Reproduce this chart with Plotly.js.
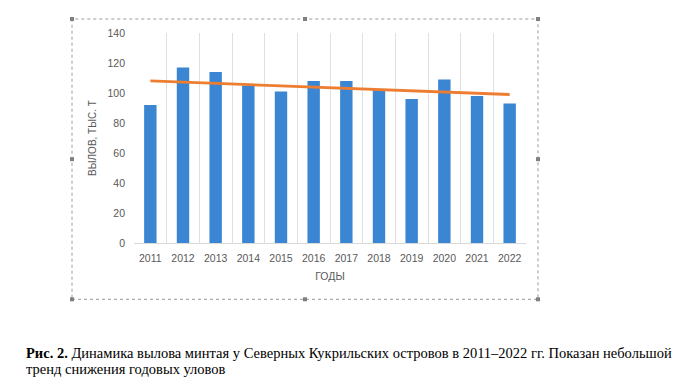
<!DOCTYPE html>
<html>
<head>
<meta charset="utf-8">
<script src="https://cdn.plot.ly/plotly-3.0.1.min.js"></script>
<style>
html,body{margin:0;padding:0;background:#fff;}
#chart{width:683px;height:386px;}
</style>
</head>
<body>
<div id="chart"></div>
<script>
// ---- data ----
const years = ['2011','2012','2013','2014','2015','2016','2017','2018','2019','2020','2021','2022'];
const catch_kt = [92, 117, 114, 105, 101, 108, 108, 102, 96, 109, 98, 93];
const trendYears = ['2011', '2022'];
const trendValues = [108.1, 99.0];
const yTicks = [0, 20, 40, 60, 80, 100, 120, 140];
const xTitle = 'ГОДЫ';
const yTitle = 'ВЫЛОВ, ТЫС. Т';
const captionLine1 = '<b>Рис. 2.</b> Динамика вылова минтая у Северных Кукрильских островов в 2011–2022 гг. Показан небольшой';
const captionLine2 = 'тренд снижения годовых уловов';

// ---- geometry (pixels) ----
const W = 683, H = 386;
const plotL = 134, plotR = 526, plotT = 32.7, plotB = 242.7;
const pw = plotR - plotL, ph = plotB - plotT;
const px = x => (x - plotL) / pw;
const py = y => (plotB - y) / ph;

const frame = {l: 72, r: 538, t: 18.7, b: 299};
const shapes = [{
  type: 'rect', xref: 'paper', yref: 'paper',
  x0: px(frame.l), x1: px(frame.r), y0: py(frame.b), y1: py(frame.t),
  line: {color: '#9a9a9a', width: 1, dash: 'dot'}, fillcolor: 'rgba(0,0,0,0)'
}];
const hs = 2;
const mx = (frame.l + frame.r) / 2, my = (frame.t + frame.b) / 2;
[[frame.l, frame.t],[mx, frame.t],[frame.r, frame.t],
 [frame.l, my],[frame.r, my],
 [frame.l, frame.b],[mx, frame.b],[frame.r, frame.b]].forEach(([hx, hy]) => {
  shapes.push({
    type: 'rect', xref: 'paper', yref: 'paper',
    x0: px(hx - hs), x1: px(hx + hs), y0: py(hy + hs), y1: py(hy - hs),
    line: {width: 0}, fillcolor: '#7f7f7f'
  });
});

const tickFont = {family: 'Liberation Sans, Arial, sans-serif', size: 10.5, color: '#595959'};
const capFont = {family: 'Liberation Serif, Times New Roman, serif', size: 14.5, color: '#000'};

const data = [
  {
    type: 'bar', x: years, y: catch_kt, width: 0.38,
    marker: {color: '#3a86d2', line: {width: 0}},
    hoverinfo: 'x+y', showlegend: false
  },
  {
    type: 'scatter', mode: 'lines', x: trendYears, y: trendValues,
    line: {color: '#ed7d31', width: 2.8}, showlegend: false, hoverinfo: 'skip'
  }
];

const layout = {
  width: W, height: H,
  margin: {l: plotL, r: W - plotR, t: plotT, b: H - plotB, pad: 0},
  paper_bgcolor: '#ffffff', plot_bgcolor: '#ffffff',
  showlegend: false,
  xaxis: {
    type: 'category', tickson: 'boundaries', showgrid: true, gridcolor: '#e0e0e0', gridwidth: 1,
    showline: true, linecolor: '#d9d9d9', linewidth: 1, ticks: '',
    tickfont: tickFont, ticklabelstandoff: 5, range: [-0.5, 11.5], fixedrange: true,
    title: {text: xTitle, font: {family: 'Liberation Sans, Arial, sans-serif', size: 10.5, color: '#595959'}, standoff: 10}
  },
  yaxis: {
    range: [0, 140], tickvals: yTicks, showgrid: false, zeroline: false, showline: false,
    ticks: '', tickfont: tickFont, ticklabelstandoff: 8, fixedrange: true,
    title: {text: yTitle, font: {family: 'Liberation Sans, Arial, sans-serif', size: 10, color: '#595959'}, standoff: 8}
  },
  shapes: shapes,
  annotations: [
    {xref: 'paper', yref: 'paper', x: px(24), y: py(352.7), xanchor: 'left', yanchor: 'middle',
     align: 'left', showarrow: false, text: captionLine1, font: capFont},
    {xref: 'paper', yref: 'paper', x: px(24), y: py(369), xanchor: 'left', yanchor: 'middle',
     align: 'left', showarrow: false, text: captionLine2, font: capFont}
  ]
};

Plotly.newPlot('chart', data, layout, {displayModeBar: false, staticPlot: true});
</script>
</body>
</html>
